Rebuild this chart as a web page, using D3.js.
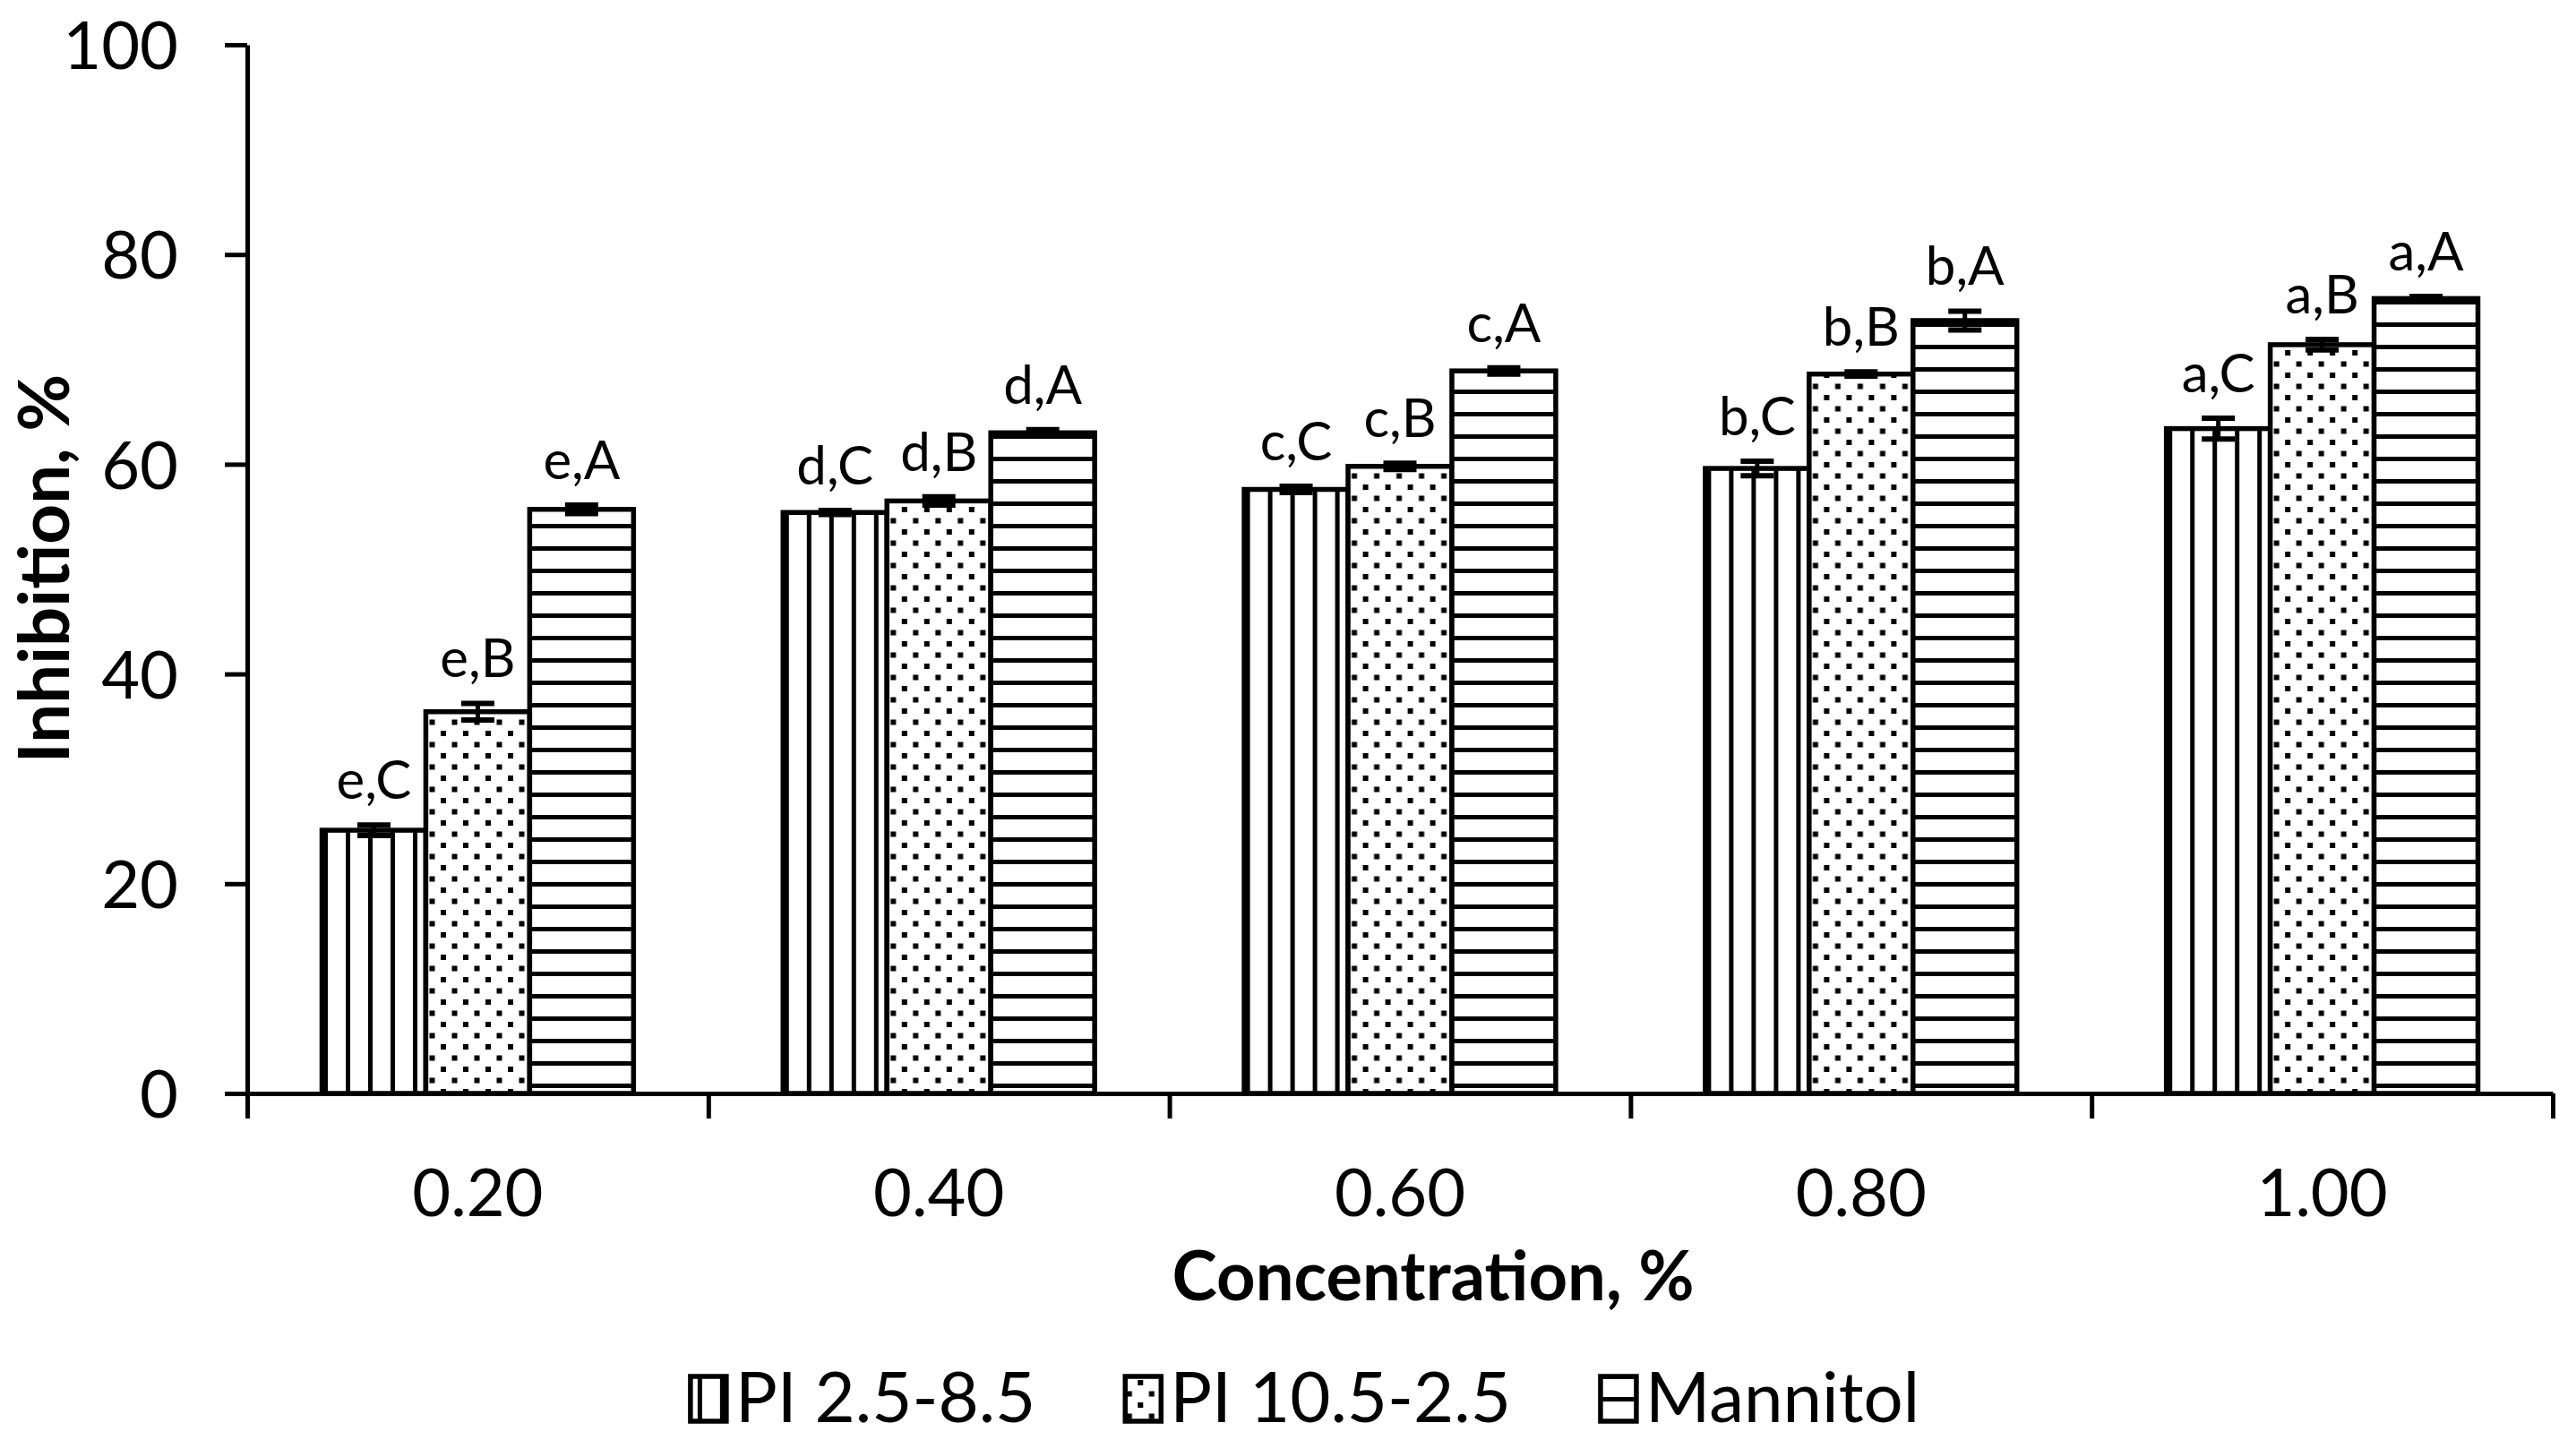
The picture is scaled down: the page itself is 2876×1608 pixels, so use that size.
<!DOCTYPE html>
<html>
<head>
<meta charset="utf-8">
<script src="https://cdn.jsdelivr.net/npm/d3@7"></script>
<style>
  body { margin: 0; background: #fff; }
  svg { display: block; font-family: Lato, 'Open Sans', sans-serif; }
</style>
</head>
<body>
<main></main>
<script>
// values
var categories = ['0.20', '0.40', '0.60', '0.80', '1.00'];
var seriesNames = ['PI 2.5-8.5', 'PI 10.5-2.5', 'Mannitol'];
var pi25 = [25.1, 55.4, 57.6, 59.6, 63.4];
var pi105 = [36.4, 56.5, 59.8, 68.6, 71.4];
var mannitol = [55.7, 63.0, 68.9, 73.7, 75.8];
var pi25Err = [0.5, 0.2, 0.3, 0.7, 1.0];
var pi105Err = [0.8, 0.4, 0.3, 0.2, 0.5];
var mannitolErr = [0.4, 0.3, 0.3, 0.9, 0.2];
var pi25Letters = ['e,C', 'd,C', 'c,C', 'b,C', 'a,C'];
var pi105Letters = ['e,B', 'd,B', 'c,B', 'b,B', 'a,B'];
var mannitolLetters = ['e,A', 'd,A', 'c,A', 'b,A', 'a,A'];
var yTicks = [0, 20, 40, 60, 80, 100];

!function(){
    var w = 2876;
    var h = 1608;
    var left = 276, right = 2850, top = 50, bottom = 1221;
    var patterns = ['vlines', 'dots', 'hlines'];

    var series = [
        { name: seriesNames[0], vals: pi25, errs: pi25Err, letters: pi25Letters },
        { name: seriesNames[1], vals: pi105, errs: pi105Err, letters: pi105Letters },
        { name: seriesNames[2], vals: mannitol, errs: mannitolErr, letters: mannitolLetters }
    ];

    let svg = d3.select('main').append('svg')
        .attr('width', w)
        .attr('height', h);

    // fill patterns
    let defs = svg.append('defs');
    let pv = defs.append('pattern').attr('id', 'vlines').attr('patternUnits', 'userSpaceOnUse')
        .attr('width', 25).attr('height', 10);
    pv.append('rect').attr('width', 25).attr('height', 10).attr('fill', '#fff');
    pv.append('rect').attr('x', 10).attr('width', 5).attr('height', 10).attr('fill', '#000');

    let pd = defs.append('pattern').attr('id', 'dots').attr('patternUnits', 'userSpaceOnUse')
        .attr('width', 25).attr('height', 25);
    pd.append('rect').attr('width', 25).attr('height', 25).attr('fill', '#fff');
    pd.append('rect').attr('x', 3.5).attr('y', 3.5).attr('width', 6).attr('height', 6).attr('fill', '#000');
    pd.append('rect').attr('x', 16).attr('y', 16).attr('width', 6).attr('height', 6).attr('fill', '#000');

    let ph = defs.append('pattern').attr('id', 'hlines').attr('patternUnits', 'userSpaceOnUse')
        .attr('width', 10).attr('height', 25);
    ph.append('rect').attr('width', 10).attr('height', 25).attr('fill', '#fff');
    ph.append('rect').attr('y', 10).attr('width', 10).attr('height', 5).attr('fill', '#000');

    let x0 = d3.scaleBand().domain(categories).range([left, right]);
    let x1 = d3.scaleBand().domain(d3.range(series.length))
        .range([0, x0.bandwidth()]).paddingInner(0).paddingOuter(0.72);
    let xb = d3.scaleLinear().domain([0, categories.length]).range([left, right]);
    let y = d3.scaleLinear().domain([0, 100]).range([bottom, top]);

    // bars
    let groups = svg.append('g').selectAll('g')
        .data(categories)
        .enter().append('g')
        .attr('transform', d => 'translate(' + x0(d) + ',0)');

    groups.each(function(c, ci){
        let g = d3.select(this);
        series.forEach((s, si) => {
            let bx = x1(si), bw = x1.bandwidth(), v = s.vals[ci], e = s.errs[ci];
            g.append('rect')
                .attr('x', bx).attr('width', bw)
                .attr('y', y(v)).attr('height', y(0) - y(v))
                .attr('fill', 'url(#' + patterns[si] + ')')
                .attr('stroke', '#000').attr('stroke-width', 5.5);
            let cx = bx + bw / 2;
            g.append('line').attr('x1', cx).attr('x2', cx)
                .attr('y1', y(v - e)).attr('y2', y(v + e))
                .attr('stroke', '#000').attr('stroke-width', 5);
            [v - e, v + e].forEach(t => {
                g.append('line').attr('x1', cx - 18.5).attr('x2', cx + 18.5)
                    .attr('y1', y(t)).attr('y2', y(t))
                    .attr('stroke', '#000').attr('stroke-width', 6);
            });
            g.append('text')
                .attr('x', cx).attr('y', y(v + e) - 29)
                .attr('text-anchor', 'middle')
                .attr('font-size', 60)
                .text(s.letters[ci]);
        });
    });

    // y axis
    let yAxis = svg.append('g')
        .attr('transform', 'translate(' + left + ',0)')
        .call(d3.axisLeft(y).tickValues(yTicks).tickSize(25).tickSizeOuter(0).tickPadding(52));
    yAxis.selectAll('path, line').attr('stroke', '#000').attr('stroke-width', 5);
    yAxis.selectAll('text').attr('font-size', 74).attr('font-family', 'Lato').attr('dy', '0.36em').attr('fill', '#000');

    // x axis: boundary ticks, then category labels
    let xAxis = svg.append('g')
        .attr('transform', 'translate(0,' + bottom + ')')
        .call(d3.axisBottom(xb).tickValues(d3.range(categories.length + 1)).tickSize(28).tickSizeOuter(0).tickFormat(''));
    xAxis.selectAll('path, line').attr('stroke', '#000').attr('stroke-width', 5);

    let xLabels = svg.append('g')
        .attr('transform', 'translate(0,' + bottom + ')')
        .call(d3.axisBottom(x0).tickSize(0));
    xLabels.select('.domain').remove();
    xLabels.selectAll('text').attr('font-size', 74).attr('font-family', 'Lato')
        .attr('y', 137).attr('dy', 0).attr('fill', '#000');

    // axis titles
    svg.append('text')
        .attr('x', 1600).attr('y', 1452)
        .attr('text-anchor', 'middle')
        .attr('font-size', 76).attr('font-weight', 'bold')
        .text('Concentration, %');

    svg.append('text')
        .attr('transform', 'translate(77,635) rotate(-90)')
        .attr('text-anchor', 'middle')
        .attr('font-size', 78).attr('font-weight', 'bold')
        .text('Inhibition, %');

    // legend
    let legend = svg.append('g');
    let lx = 0;
    series.forEach((s, i) => {
        let item = legend.append('g').attr('transform', 'translate(' + lx + ',0)');
        item.append('rect').attr('x', 2).attr('y', 1537).attr('width', 40).attr('height', 50)
            .attr('fill', 'url(#' + patterns[i] + ')')
            .attr('stroke', '#000').attr('stroke-width', 5.5);
        let t = item.append('text').attr('x', 52).attr('y', 1588)
            .attr('font-size', 78)
            .text(s.name);
        lx += 52 + t.node().getComputedTextLength() + 98;
    });
    let lw = lx - 98;
    legend.attr('transform', 'translate(' + (1456 - lw / 2) + ',0)');
}();
</script>
</body>
</html>
